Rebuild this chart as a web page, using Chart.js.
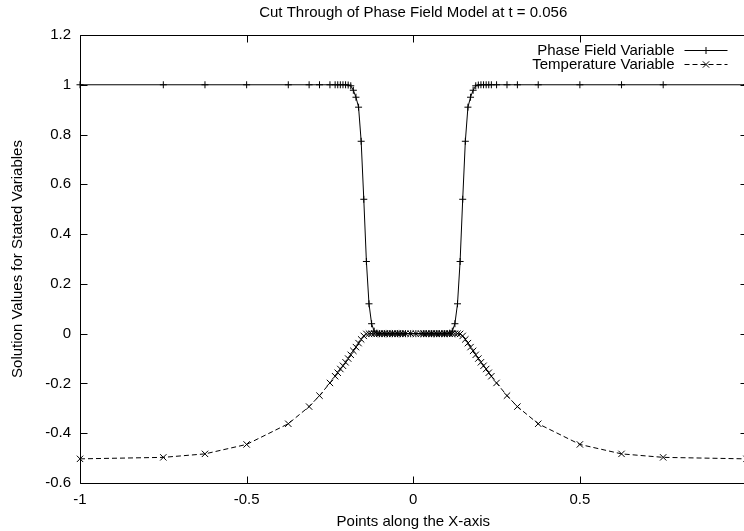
<!DOCTYPE html>
<html>
<head>
<meta charset="utf-8">
<title>Phase field cut</title>
<script src="https://cdn.jsdelivr.net/npm/chart.js@4.4.0/dist/chart.umd.min.js"></script>
<style>
  html, body { margin: 0; padding: 0; overflow: hidden; background: #fff; }
  canvas { display: block; }
</style>
</head>
<body>
<canvas id="myChart" width="752" height="531"></canvas>
<script>
// mesh points along the cut (refined around the two interfaces)
const xPoints = [
  -1, -0.75, -0.625, -0.5, -0.375, -0.3125, -0.2813, -0.25,
  -0.2344, -0.2266, -0.2188, -0.2109, -0.2031, -0.1953, -0.1875, -0.1797,
  -0.1719, -0.1641, -0.1563, -0.1484, -0.1406, -0.1328, -0.125, -0.1172,
  -0.1094, -0.1016, -0.0938, -0.0859, -0.0781, -0.0703, -0.0625, -0.0547,
  -0.0469, -0.0391, -0.0313, -0.0234, -0.0078,
  0.0078, 0.0234, 0.0313, 0.0391, 0.0469,
  0.0547, 0.0625, 0.0703, 0.0781, 0.0859, 0.0938, 0.1016, 0.1094,
  0.1172, 0.125, 0.1328, 0.1406, 0.1484, 0.1563, 0.1641, 0.1719,
  0.1797, 0.1875, 0.1953, 0.2031, 0.2109, 0.2188, 0.2266, 0.2344,
  0.25, 0.2813, 0.3125, 0.375, 0.5, 0.625, 0.75, 1
];

const phaseValues = [
  1, 1, 1, 1, 1, 1, 1, 1,
  1, 1, 1, 1, 1, 0.999, 0.996, 0.978,
  0.95, 0.91, 0.773, 0.54, 0.29, 0.12, 0.04, 0.01,
  0.002, 0, 0, 0, 0, 0, 0, 0,
  0, 0, 0, 0, 0,
  0, 0, 0, 0, 0,
  0, 0, 0, 0, 0, 0, 0, 0.002,
  0.01, 0.04, 0.12, 0.29, 0.54, 0.773, 0.91, 0.95,
  0.978, 0.996, 0.999, 1, 1, 1, 1, 1,
  1, 1, 1, 1, 1, 1, 1, 1
];

const tempValues = [
  -0.503, -0.497, -0.483, -0.445, -0.362, -0.293, -0.249, -0.198,
  -0.171, -0.157, -0.142, -0.129, -0.115, -0.100, -0.085, -0.069,
  -0.054, -0.038, -0.023, -0.009, -0.001, 0, 0, 0,
  0, 0, 0, 0, 0, 0, 0, 0,
  0, 0, 0, 0, 0,
  0, 0, 0, 0, 0,
  0, 0, 0, 0, 0, 0, 0, 0,
  0, 0, 0, -0.001, -0.009, -0.023, -0.038, -0.054,
  -0.069, -0.085, -0.100, -0.115, -0.129, -0.142, -0.157, -0.171,
  -0.198, -0.249, -0.293, -0.362, -0.445, -0.483, -0.497, -0.503
];

const xTicks = [-1, -0.5, 0, 0.5];
const xTickLabels = ['-1', '-0.5', '0', '0.5'];
const yTicks = [-0.6, -0.4, -0.2, 0, 0.2, 0.4, 0.6, 0.8, 1, 1.2];
const yTickLabels = ['-0.6', '-0.4', '-0.2', '0', '0.2', '0.4', '0.6', '0.8', '1', '1.2'];

const fontSpec = { family: '"Liberation Sans", Arial, Helvetica, sans-serif', size: 15 };
const tickLen = 7;

// box round the plot with gnuplot style inward ticks on all four sides
const framePlugin = {
  id: 'frame',
  afterDatasetsDraw(chart) {
    const ctx = chart.ctx;
    const a = chart.chartArea;
    const xs = chart.scales.x;
    const ys = chart.scales.y;
    const l = Math.round(a.left) + 0.5, r = Math.round(a.right) + 0.5;
    const t = Math.round(a.top) + 0.5, b = Math.round(a.bottom) + 0.5;
    ctx.save();
    ctx.strokeStyle = '#000';
    ctx.lineWidth = 1;
    ctx.beginPath();
    ctx.rect(l, t, r - l, b - t);
    xTicks.forEach(v => {
      const px = Math.round(xs.getPixelForValue(v)) + 0.5;
      ctx.moveTo(px, b); ctx.lineTo(px, b - tickLen);
      ctx.moveTo(px, t); ctx.lineTo(px, t + tickLen);
    });
    yTicks.forEach(v => {
      const py = Math.round(ys.getPixelForValue(v)) + 0.5;
      ctx.moveTo(l, py); ctx.lineTo(l + tickLen, py);
      ctx.moveTo(r, py); ctx.lineTo(r - tickLen, py);
    });
    ctx.stroke();
    ctx.restore();
  }
};

// key in the top right corner: label, then a sample of line and marker
const keyPlugin = {
  id: 'key',
  afterDraw(chart) {
    const ctx = chart.ctx;
    const a = chart.chartArea;
    ctx.save();
    ctx.font = fontSpec.size + 'px ' + fontSpec.family;
    ctx.textAlign = 'right';
    ctx.textBaseline = 'middle';
    ctx.fillStyle = '#000';
    chart.data.datasets.forEach((ds, i) => {
      const y = a.top + 15.5 + i * 14;
      ctx.fillText(ds.label, a.right - 72, y);
      ctx.strokeStyle = '#000';
      ctx.lineWidth = 1;
      ctx.setLineDash(ds.borderDash || []);
      ctx.beginPath();
      ctx.moveTo(a.right - 62, y);
      ctx.lineTo(a.right - 19, y);
      ctx.stroke();
      ctx.setLineDash([]);
      Chart.helpers.drawPoint(ctx, {
        pointStyle: ds.pointStyle, radius: ds.pointRadius, rotation: 0, borderWidth: 1
      }, a.right - 40.5, y);
    });
    ctx.restore();
  }
};

const ctx = document.getElementById('myChart');
const myChart = new Chart(ctx, {
  type: 'line',
  data: {
    datasets: [{
      label: 'Phase Field Variable',
      data: xPoints.map((x, i) => ({ x: x, y: phaseValues[i] })),
      borderColor: '#000',
      borderWidth: 1,
      pointStyle: 'cross',
      pointRadius: 3.5,
      pointBorderColor: '#000',
      pointBorderWidth: 1,
      pointHoverRadius: 3.5,
      fill: false,
      tension: 0,
      clip: 8
    }, {
      label: 'Temperature Variable',
      data: xPoints.map((x, i) => ({ x: x, y: tempValues[i] })),
      borderColor: '#000',
      borderWidth: 1,
      borderDash: [5, 3],
      pointStyle: 'crossRot',
      pointRadius: 4.5,
      pointBorderColor: '#000',
      pointBorderWidth: 1,
      pointHoverRadius: 4.5,
      fill: false,
      tension: 0,
      clip: 8
    }]
  },
  options: {
    responsive: false,
    animation: false,
    layout: { padding: { left: 0, right: 4, top: 0, bottom: 0 } },
    plugins: {
      legend: { display: false },
      tooltip: { enabled: false }
    },
    scales: {
      x: {
        type: 'linear',
        position: 'bottom',
        min: -1,
        max: 1,
        afterFit(scale) { scale.height = 48; },
        afterBuildTicks(scale) { scale.ticks = xTicks.map(v => ({ value: v })); },
        grid: { display: false, drawTicks: false },
        border: { display: false },
        ticks: {
          padding: 8,
          color: '#000',
          font: fontSpec,
          autoSkip: false,
          maxRotation: 0,
          callback: (v, i) => xTickLabels[i]
        },
        title: {
          display: true,
          text: 'Points along the X-axis',
          color: '#000',
          font: fontSpec,
          padding: { top: 0, bottom: 0 }
        }
      },
      x2: {
        type: 'linear',
        position: 'top',
        min: -1,
        max: 1,
        afterFit(scale) { scale.height = 35; },
        grid: { display: false, drawTicks: false },
        border: { display: false },
        ticks: { display: false },
        title: {
          display: true,
          text: 'Cut Through of Phase Field Model at t = 0.056',
          color: '#000',
          font: fontSpec,
          padding: { top: 4, bottom: 0 }
        }
      },
      y: {
        type: 'linear',
        position: 'left',
        min: -0.6,
        max: 1.2,
        afterFit(scale) { scale.width = 80; },
        afterBuildTicks(scale) { scale.ticks = yTicks.map(v => ({ value: v })); },
        grid: { display: false, drawTicks: false },
        border: { display: false },
        ticks: {
          padding: 9,
          color: '#000',
          font: fontSpec,
          callback: (v, i) => yTickLabels[i]
        },
        title: {
          display: true,
          text: 'Solution Values for Stated Variables',
          color: '#000',
          font: fontSpec,
          padding: { top: 9, bottom: 0 }
        }
      }
    }
  },
  plugins: [framePlugin, keyPlugin]
});
</script>
</body>
</html>
